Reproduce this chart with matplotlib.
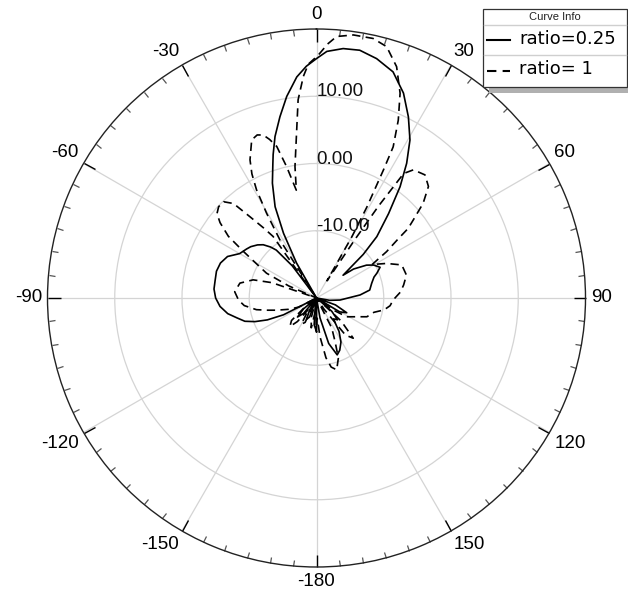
import numpy as np
import matplotlib
matplotlib.use("Agg")
import matplotlib.pyplot as plt
from matplotlib.patches import Rectangle
from matplotlib.lines import Line2D
import matplotlib.transforms as mtransforms

# ---------------- data (angle in degrees, gain in dB) ----------------
theta_r025 = [-180, -175, -170, -165, -160, -155, -150, -145, -140, -135, -130, -125,
              -121, -117, -114, -111, -108, -104, -100, -95, -90, -85, -80, -75, -70,
              -65, -60, -55, -52, -48, -45, -42, -40, -37, -34, -31, -29.7, -27, -24.4,
              -21, -18, -16.8, -14.4, -11.4, -8.4, -5.1, -2.5, 0, 2.4, 6.1, 9.9, 14.1,
              18.7, 23, 26.9, 30.6, 33.8, 36.9, 40.5, 44.5, 47, 49.4, 52, 56.7, 60,
              64.2, 67.7, 70, 75, 81.5, 86, 95, 100, 105, 110, 116, 121, 126, 131, 136,
              141, 146, 151, 156, 160, 165, 170, 175, 180]
gain_r025 = [-15, -16, -19, -20, -17, -16.5, -18, -20, -17, -16, -17.5, -20,
             -20, -14.5, -12, -10.2, -8.8, -7.8, -6.6, -5.6, -5.0, -4.7, -4.7, -4.6, -4.8,
             -5.4, -6.8, -7.3, -7.6, -8.2, -8.8, -9.8, -10.7, -14, -20, -20, -14, -9.2, -5.1,
             -1.7, 1.0, 2.3, 4.8, 7.5, 10.3, 13.0, 14.5, 15.6, 16.7, 17.3, 17.4, 16.7,
             15.5, 13.1, 10.2, 7.3, 4.1, 0.7, -3.5, -7.2, -10.5, -14.8, -13, -11.1, -10.2,
             -9.5, -10.3, -10.9, -11.5, -12, -13.5, -16.5, -18, -20, -17, -15, -16, -20, -17, -15.5,
             -16, -14, -12.5, -11.5, -11, -13, -17, -20, -15]

theta_r1 = [-180, -175, -170, -165, -160, -155, -150, -145, -141, -137, -132, -127, -122,
            -117, -112, -107, -104, -101, -96, -91.5, -85.6, -79, -74, -71, -68, -66.5,
            -63.6, -60, -57.4, -55, -52, -49.7, -47, -44, -41.3, -39.3, -37, -35.2, -34,
            -32.2, -30.5, -29, -27.5, -25.7, -22.3, -20, -18.1, -16.5, -14.7, -12.8, -10.6,
            -9.3, -6.9, -5.3, -3.4, -2, 0.4, 2.5, 4.4, 8.0, 12.3, 15.6, 19.1, 22.2, 24.7,
            26.9, 27.6, 28, 29, 30, 31.5, 33.3, 34, 35, 37.1, 41.4, 45.1, 48.4, 51.1, 52.8,
            54.1, 56.5, 59, 61, 63.7, 68.8, 75.7, 81.5, 86, 91.5, 96, 100, 104, 110.4, 115,
            121.8, 126, 130, 133, 137.6, 142, 146, 150, 153, 157, 160, 164.3, 168, 171,
            174.8, 178, 180]
gain_r1 = [-16, -18, -15.5, -17, -20, -16, -15.5, -18, -15.5, -14.2, -15, -18, -20,
           -17, -15.5, -13.8, -12.5, -10.9, -9.2, -8.4, -7.8, -8.4, -10.2, -13, -20, -15.5,
           -11.7, -9.5, -7, -4, -1.8, -0.6, -0.1, -0.1, -1.3, -4.4, -7, -8.8, -20,
           -9.8, -5.4, -1.6, 0.8, 2.8, 5.4, 5.8, 5.5, 4.6, 3.3, 0.0, -3.7,
           -0.2, 4.7, 9.6, 13.0, 14.8, 16.1, 17.8, 19.0, 19.5, 19.5, 18.8, 16.4, 12.9, 9.1,
           5.2, 1.5, -0.7, -4.6, -9.5, -17, -9.5, -3.5, 2.6, 3.9, 4.4, 3.5, 1.2, -1.5, -2.9,
           -5, -7.5, -10.4, -9.6, -8.4, -6.4, -6.2, -6.9, -7.5, -8.6, -9.0, -9.8, -11.2, -12, -13.4,
           -14.7, -17, -20, -15, -11.9, -13, -18, -20, -15, -12.9, -10.5, -8.9, -9.5, -11,
           -14.2, -17, -16]

series_labels = ["ratio=0.25", "ratio= 1"]
angle_ticks = [0, 30, 60, 90, 120, 150, 180, -150, -120, -90, -60, -30]
angle_labels = ["0", "30", "60", "90", "120", "150", "-180", "-150", "-120", "-90", "-60", "-30"]
ring_values = [-10, 0, 10]
ring_labels = ["-10.00", "0.00", "10.00"]
R_MIN, R_MAX = -20, 20

# ---------------- figure ----------------
W, H = 628, 597
fig = plt.figure(figsize=(W / 100, H / 100), dpi=100, facecolor="white")
cx, cy, R = 316.5, 298.0, 269.0
ax = fig.add_axes([(cx - R) / W, (H - cy - R) / H, 2 * R / W, 2 * R / H], projection="polar")
ax.set_theta_zero_location("N")
ax.set_theta_direction(-1)
ax.set_rlim(R_MIN, R_MAX)

ax.set_yticks(ring_values)
ax.set_yticklabels([])
ax.set_xticks(np.deg2rad(np.arange(0, 360, 30)))
ax.set_xticklabels([])
ax.set_xticks(np.deg2rad(np.arange(0, 360, 5)), minor=True)
ax.tick_params(axis="x", which="both", top=True, bottom=False, labeltop=False, labelbottom=False)
ax.tick_params(axis="x", which="major", direction="in", length=9, width=1.0, color="black", pad=0)
ax.tick_params(axis="x", which="minor", direction="in", length=4.5, width=0.9, color="#555555")
ax.grid(True, which="major", color="#d4d4d4", linewidth=0.9)
ax.spines["polar"].set_color("#222222")
ax.spines["polar"].set_linewidth(1.0)

FONT = "Liberation Sans"

def clipped(v):
    return np.clip(np.asarray(v, dtype=float), R_MIN, R_MAX)

l1, = ax.plot(np.deg2rad(theta_r025), clipped(gain_r025), color="black", lw=1.2,
              label=series_labels[0])
l2, = ax.plot(np.deg2rad(theta_r1), clipped(gain_r1), color="black", lw=1.2,
              linestyle=(0, (5.0, 3.2)), label=series_labels[1])

# angle labels outside the circle
pad_pt = 4.0
for a, lab in zip(angle_ticks, angle_labels):
    t = np.deg2rad(a)
    s, c = np.sin(t), np.cos(t)
    ha = "center" if abs(s) < 0.3 else ("left" if s > 0 else "right")
    va = "center" if abs(c) < 0.3 else ("bottom" if c > 0 else "top")
    tr = mtransforms.offset_copy(ax.transData, fig=fig, x=pad_pt * s, y=pad_pt * c, units="points")
    ax.text(t, R_MAX, lab, transform=tr, ha=ha, va=va, fontsize=13.5,
            family=FONT, color="black", clip_on=False)

# radial labels
for v, lab in zip(ring_values, ring_labels):
    ax.text(0, v, lab, ha="left", va="baseline", fontsize=13.5, family=FONT,
            color="#111111", zorder=5)

# ---------------- legend box ----------------
lax = fig.add_axes([0, 0, 1, 1], zorder=10)
lax.set_xlim(0, W)
lax.set_ylim(H, 0)
lax.axis("off")
bx0, by0, bx1, by1 = 483, 9, 627, 87
lax.add_patch(Rectangle((bx0 + 6, by0 + 6), bx1 - bx0, by1 - by0, facecolor="#b0b0b0",
                        edgecolor="none", clip_on=False))
lax.add_patch(Rectangle((bx0, by0), bx1 - bx0, by1 - by0, facecolor="white",
                        edgecolor="#333333", linewidth=0.9))
lax.text((bx0 + bx1) / 2, 17, "Curve Info", ha="center", va="center", fontsize=8,
         family=FONT, color="#222222")
lax.plot([bx0 + 1, bx1 - 1], [25, 25], color="#cfcfcf", lw=1)
lax.plot([bx0 + 1, bx1 - 1], [55, 55], color="#cfcfcf", lw=1)
lax.add_line(Line2D([487, 510], [40, 40], color="black", lw=1.5))
lax.add_line(Line2D([487, 510], [70.5, 70.5], color="black", lw=1.5, linestyle=(0, (4.5, 3.0))))
lax.text(519, 39, series_labels[0], ha="left", va="center", fontsize=13, family="DejaVu Sans")
lax.text(519, 69.5, series_labels[1], ha="left", va="center", fontsize=13, family="DejaVu Sans")

fig.savefig("out.png", dpi=100, facecolor="white")
